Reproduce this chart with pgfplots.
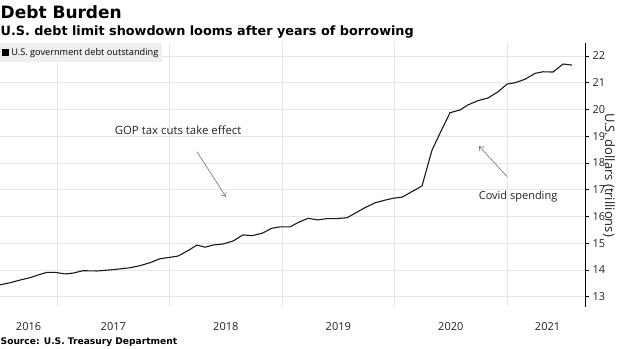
\documentclass[border=0pt]{standalone}
\usepackage{fontspec}
\setmainfont{Open Sans}
\newfontfamily\boldfont{DejaVu Sans}
\usepackage{pgfplots}
\pgfplotsset{compat=1.18}
\usetikzlibrary{arrows.meta}
\definecolor{gridgray}{HTML}{E6E6E6}
\definecolor{leggray}{HTML}{EFEFEF}
\definecolor{txt}{HTML}{222222}
\definecolor{arrowgray}{HTML}{707070}
\begin{document}
\begin{tikzpicture}
\useasboundingbox (0pt,0pt) rectangle (620pt,348pt);
\node[anchor=base west,inner sep=0pt] at (0.5pt,329pt) {\boldfont\bfseries\fontsize{17}{17}\selectfont Debt Burden};
\node[anchor=base west,inner sep=0pt] at (0.5pt,312pt) {\boldfont\bfseries\fontsize{12.8}{12.8}\selectfont U.S. debt limit showdown looms after years of borrowing};
\node[anchor=base west,inner sep=0pt] at (0.5pt,4pt) {\boldfont\bfseries\fontsize{9.1}{9.1}\selectfont Source: U.S. Treasury Department};
\begin{axis}[
  at={(0pt,305pt)}, anchor=north west,
  scale only axis, width=585pt, height=264pt,
  xmin=2016.493, xmax=2021.693, ymin=12.613, ymax=22.486,
  axis x line*=bottom, axis y line*=right,
  x axis line style={draw=none},
  y axis line style={black, line width=0.6pt},
  xtick={2017,2018,2019,2020,2021},
  xticklabels={},
  major x tick style={draw=none},
  xmajorgrids, ymajorgrids,
  grid style={gridgray, line width=0.8pt},
  extra x ticks={2016.747,2017.5,2018.5,2019.5,2020.5,2021.36},
  extra x tick labels={2016,2017,2018,2019,2020,2021},
  extra x tick style={grid=none, major tick length=0pt},
  xticklabel style={anchor=center, inner sep=0pt, yshift=-20pt, font=\fontsize{11}{11}\selectfont, text=txt},
  ytick={13,14,15,16,17,18,19,20,21,22},
  tick align=outside, major tick length=4pt,
  major y tick style={black, line width=0.6pt},
  yticklabel style={font=\fontsize{11}{11}\selectfont, text=txt},
  /pgf/number format/assume math mode=true,
  ylabel={U.S. dollars (trillions)},
  ylabel style={rotate=180, at={(axis description cs:1,0.5)}, anchor=center, yshift=24pt, font=\fontsize{13}{13}\selectfont, text=txt},
  legend style={at={(0,1)}, anchor=north west, fill=leggray, draw=none,
    font=\fontsize{9.2}{9.2}\selectfont, inner xsep=2pt, inner ysep=3pt,
    /tikz/every even column/.append style={column sep=0pt}},
  legend cell align=left,
  legend image code/.code={\fill[black] (0pt,-3pt) rectangle (6pt,3pt);},
  clip=false,
]
\addplot[black!90, line width=1.1pt, line join=round] coordinates {
(2016.493,13.44) (2016.582,13.52) (2016.671,13.62) (2016.760,13.71) (2016.831,13.81)
(2016.911,13.91) (2016.982,13.91) (2017.071,13.85) (2017.142,13.88) (2017.231,13.97)
(2017.356,13.96) (2017.498,14.01) (2017.649,14.08) (2017.738,14.16) (2017.827,14.27)
(2017.916,14.42) (2018.004,14.47) (2018.076,14.52) (2018.164,14.72) (2018.244,14.93)
(2018.316,14.85) (2018.387,14.93) (2018.476,14.97) (2018.564,15.08) (2018.653,15.31)
(2018.733,15.28) (2018.822,15.37) (2018.911,15.56) (2018.982,15.61) (2019.071,15.61)
(2019.142,15.77) (2019.231,15.93) (2019.320,15.87) (2019.400,15.92) (2019.489,15.92)
(2019.578,15.95) (2019.649,16.12) (2019.738,16.33) (2019.827,16.51) (2019.916,16.61)
(2019.987,16.68) (2020.067,16.72) (2020.156,16.93) (2020.244,17.14) (2020.333,18.48)
(2020.404,19.11) (2020.493,19.88) (2020.582,19.98) (2020.653,20.17) (2020.742,20.33)
(2020.831,20.43) (2020.920,20.66) (2021.000,20.95) (2021.071,21.00) (2021.160,21.13)
(2021.249,21.35) (2021.320,21.41) (2021.409,21.40) (2021.498,21.70) (2021.578,21.66)
};
\addlegendentry{U.S. government debt outstanding}
\node[font=\fontsize{11.4}{11.4}\selectfont, text=txt] at (axis cs:2018.076,19.21) {GOP tax cuts take effect};
\draw[arrowgray, line width=0.6pt, -{Straight Barb[length=4pt,width=6pt]}] (axis cs:2018.244,18.42) -- (axis cs:2018.502,16.73);
\node[font=\fontsize{11}{11}\selectfont, text=txt] at (axis cs:2021.098,16.74) {Covid spending};
\draw[arrowgray, line width=0.6pt, -{Straight Barb[length=4pt,width=6pt]}] (axis cs:2021.0,17.49) -- (axis cs:2020.751,18.63);
\end{axis}
\end{tikzpicture}
\end{document}
